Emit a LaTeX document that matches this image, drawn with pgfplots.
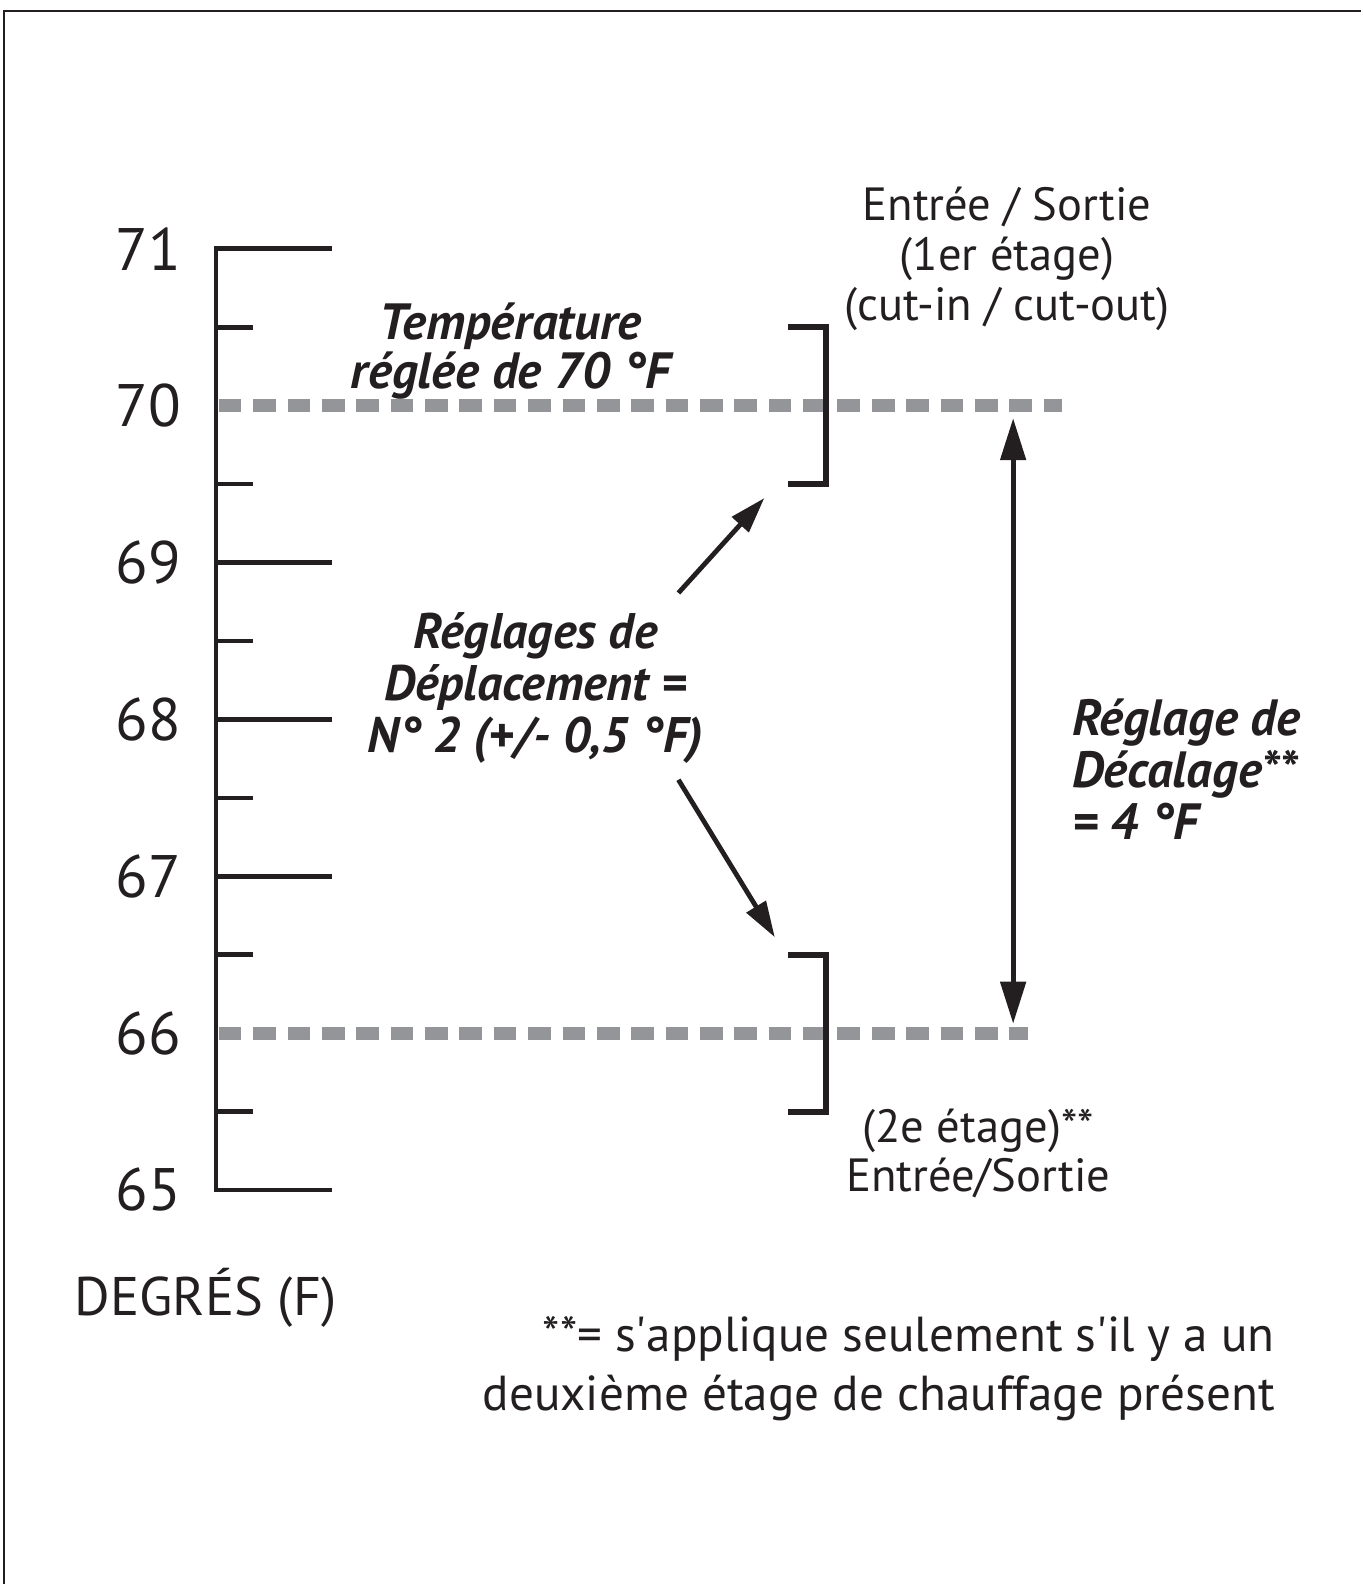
\documentclass[border=0pt]{standalone}
\usepackage{pgfplots}
\pgfplotsset{compat=1.18}
\usepackage{fontspec}
\setmainfont{PT Sans}
\usetikzlibrary{arrows.meta}
\definecolor{ink}{HTML}{231F20}
\definecolor{dashgray}{HTML}{939598}
\begin{document}
\begin{tikzpicture}[x=0.5pt,y=0.5pt]
\begin{axis}[
  scale only axis, width=573pt, height=471pt,
  xmin=216, xmax=1362, ymin=65, ymax=71,
  clip=false,
  axis x line=none, axis y line*=left,
  y axis line style={ink, line width=2.3pt, line cap=rect},
  ytick={65,67,68,69,71},
  extra y ticks={66,70},
  extra y tick style={major tick length=0pt},
  minor ytick={65.5,66.5,67.5,68.5,69.5,70.5},
  tick align=inside,
  major tick length=58pt, minor tick length=18.5pt,
  every tick/.style={ink, line width=2.3pt},
  yticklabel style={font=\fontsize{30}{30}\selectfont, text=ink, anchor=east, xshift=-14pt},
  /pgf/number format/assume math mode=true,
]
% frame
\draw[ink, line width=1.3pt] (axis cs:4,62.49) -- (axis cs:4,72.516) -- (axis cs:1362,72.516);
\coordinate (TL) at (axis cs:0,72.586);
\coordinate (BR) at (axis cs:1362,62.4904);
% dashed lines
\addplot[dashgray, line width=6.5pt, dash pattern=on 11.35pt off 5.85pt] coordinates {(219,70) (1063,70)};
\addplot[dashgray, line width=6.5pt, dash pattern=on 11.35pt off 5.85pt] coordinates {(219,66) (1029,66)};
% brackets
\addplot[ink, line width=3pt, line join=miter] coordinates {(789,70.5) (827,70.5) (827,69.5) (789,69.5)};
\addplot[ink, line width=3pt, line join=miter] coordinates {(789,66.5) (827,66.5) (827,65.5) (789,65.5)};
% double arrow
\addplot[ink, line width=2.5pt, {Triangle[length=21pt,width=12.5pt]}-{Triangle[length=21pt,width=12.5pt]}] coordinates {(1014,69.92) (1014,66.06)};
% diagonal arrows
\addplot[ink, line width=2.4pt, -{Triangle[length=18pt,width=11pt]}] coordinates {(679,68.806) (765,69.411)};
\addplot[ink, line width=2.4pt, -{Triangle[length=18pt,width=11pt]}] coordinates {(679,67.615) (775.5,66.611)};
% texts
\node[ink, align=center, font=\fontsize{25.5}{22}\selectfont\bfseries\itshape] at (axis cs:511,70.35) {Température\\réglée de 70 °F};
\node[ink, align=center, font=\fontsize{23.3}{25.2}\selectfont] at (axis cs:1008,70.935) {Entrée / Sortie\\(1er étage)\\(cut-in / cut-out)};
\node[ink, align=center, font=\fontsize{25}{26}\selectfont\bfseries\itshape] at (axis cs:536,68.2) {Réglages de\\Déplacement =\\N° 2 (+/- 0,5 °F)};
\node[ink, align=left, anchor=west, font=\fontsize{25.5}{26}\selectfont\bfseries\itshape] at (axis cs:1066,67.68) {Réglage de\\Décalage**\\= 4 °F};
\node[ink, align=center, font=\fontsize{23.3}{24.5}\selectfont] at (axis cs:979,65.23) {(2e étage)**\\Entrée/Sortie};
\node[ink, anchor=west, font=\fontsize{27.2}{27.2}\selectfont] at (axis cs:68,64.312) {DEGRÉS (F)};
\node[ink, align=right, anchor=east, font=\fontsize{24.6}{29.3}\selectfont] at (axis cs:1283,63.86) {**= s\textquotesingle applique seulement s\textquotesingle il y a un\\deuxième étage de chauffage présent};
\end{axis}
\useasboundingbox (TL) rectangle (BR);
\end{tikzpicture}
\end{document}
